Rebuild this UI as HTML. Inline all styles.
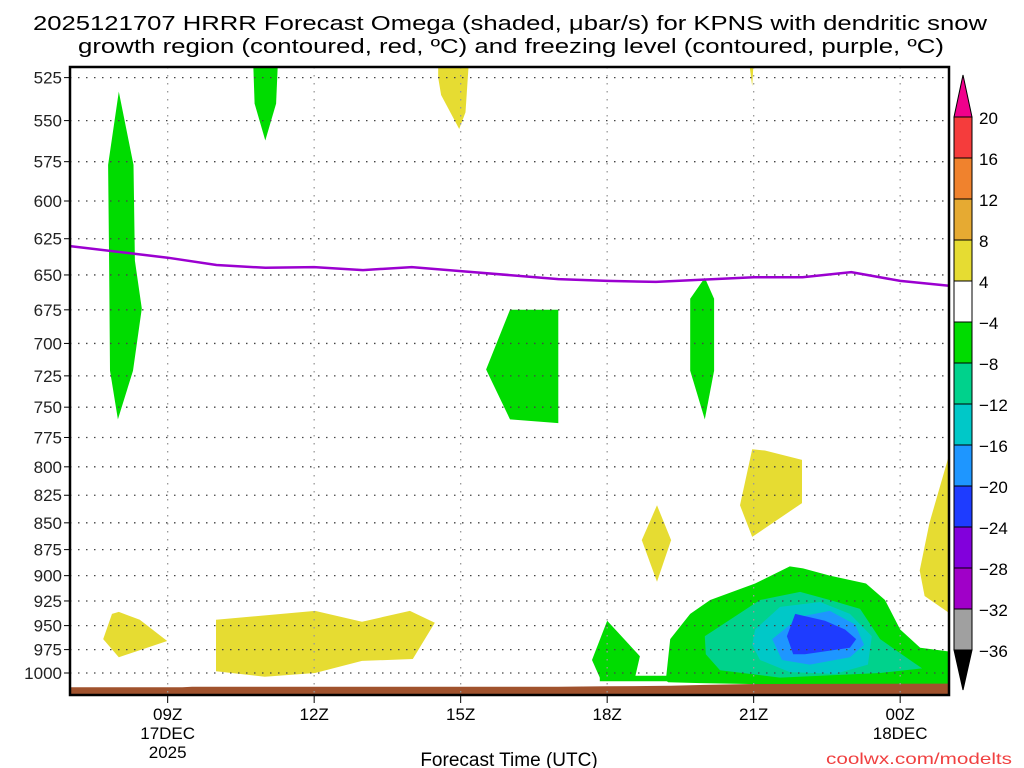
<!DOCTYPE html>
<html><head><meta charset="utf-8"><style>
html,body{margin:0;padding:0;background:#fff;}
svg{display:block;font-family:"Liberation Sans",sans-serif;}
</style></head><body>
<svg id="chart" width="1024" height="768" viewBox="0 0 1024 768" xmlns="http://www.w3.org/2000/svg">
<text x="33" y="30" font-size="20" textLength="954" lengthAdjust="spacingAndGlyphs">2025121707 HRRR Forecast Omega (shaded, μbar/s) for KPNS with dendritic snow</text>
<text x="78" y="53" font-size="20" textLength="866" lengthAdjust="spacingAndGlyphs">growth region (contoured, red, ºC) and freezing level (contoured, purple, ºC)</text>
<g id="shades"></g>
<g id="grid"></g>
<g id="lines"></g>
<g id="axes"></g>
<g id="cbar"></g>
<text x="509" y="766" font-size="19" text-anchor="middle">Forecast Time (UTC)</text>
<text x="1012" y="764" font-size="16" fill="#f04040" text-anchor="end" textLength="186" lengthAdjust="spacingAndGlyphs">coolwx.com/modelts</text>
</svg>
<script>
const pTicks=[525,550,575,600,625,650,675,700,725,750,775,800,825,850,875,900,925,950,975,1000];
const hTicks=[9,12,15,18,21,24];
const hLabels=[["09Z","17DEC","2025"],["12Z"],["15Z"],["18Z"],["21Z"],["00Z","18DEC"]];
const frzHours=[7,9,10,11,12,13,14,15,17,18,19,21,22,23,24,25];
const frzPres=[630,638,643,645,644.5,646.6,644.5,647.3,652.9,654.2,654.9,651.6,651.6,648,654.2,657.6];
const groundHours=[7,9.3,9.5,12,15,17,18,19.3,20,21,25];
const groundPres=[1015.5,1015.5,1015,1015,1015,1015,1014.5,1014,1013,1012,1011.5];
const cbLevels=[20,16,12,8,4,-4,-8,-12,-16,-20,-24,-28,-32,-36];
const cbColors=["#f53c3c","#f0822d","#e6aa32","#e6dc32","#ffffff","#00dc00","#00d28c","#00c8c8","#1e96ff","#1e3cff","#8200dc","#a000c8","#a0a0a0"];
const shapeColors=["#00dc00","#00dc00","#e6dc32","#e6dc32","#00dc00","#00dc00","#e6dc32","#e6dc32","#e6dc32","#e6dc32","#e6dc32","#00dc00","#00dc00","#00dc00","#00d28c","#00c8c8","#1e96ff","#1e3cff"];
const shapeNames=["green-left-column","green-top-11z","yellow-top-15z","yellow-top-21z","green-box-16z","green-column-20z","yellow-patch-21z","yellow-diamond-19z","yellow-right-edge","yellow-low-08z","yellow-low-band","green-low-18z","green-storm-outer","green-storm-strip","teal-storm","cyan-storm","lightblue-storm","blue-storm-core"];
const shapes=[
[[8.0,533],[8.3,577],[8.33,640],[8.47,674],[8.29,721],[7.98,760],[7.82,721],[7.8,640],[7.78,577]],
[[10.75,515],[11.26,515],[11.22,540],[11.0,562],[10.78,540]],
[[14.54,515],[15.17,515],[15.1,545],[14.97,555],[14.6,535],[14.54,525]],
[[20.9,515],[21.0,515],[20.97,530]],
[[15.52,720],[16.01,675],[17.0,675],[17.0,763],[16.01,760]],
[[20.0,652],[20.19,667],[20.19,721],[20.0,760],[19.7,721],[19.7,667]],
[[20.97,785],[21.23,786],[21.99,794],[21.99,832],[20.97,863],[20.72,834]],
[[19.02,834],[19.31,866],[19.02,906],[18.71,866]],
[[25,790],[25,937],[24.5,920],[24.4,895],[24.6,850]],
[[7.68,964],[7.86,938],[8.0,936],[8.43,944],[8.99,966],[8.0,983]],
[[9.99,944],[12.02,935],[12.98,946],[13.96,935],[14.47,947],[14.02,985],[12.98,987],[12.02,1000],[10.99,1004],[9.99,998]],
[[17.69,986],[18.0,945],[18.67,982],[18.57,1005],[17.85,1005]],
[[19.2,1008],[19.29,964],[19.7,938],[20.11,924],[21.03,907.7],[21.74,891],[22.01,893],[22.56,900],[23.3,907.7],[23.69,924],[24.0,954],[24.41,973],[25,977],[25,1012],[21.95,1013],[19.9,1011],[19.25,1010]],
[[17.85,1003],[19.3,1003],[19.3,1009],[17.85,1009]],
[[20.0,961],[20.21,954],[21.13,924],[21.95,916],[22.56,924],[23.18,933],[23.59,964],[24.2,986],[24.45,995],[23.59,1000],[21.54,1005],[20.31,997],[20.02,980]],
[[21.03,954],[21.54,931],[22.36,926],[22.97,938],[23.42,961],[23.34,991],[22.67,1001],[21.74,999],[21.13,986],[20.97,970]],
[[21.38,964],[21.95,941],[22.56,935],[23.08,949],[23.26,970],[22.97,983],[22.15,991],[21.58,986]],
[[21.68,961],[21.85,938],[22.46,945],[22.87,954],[23.1,964],[22.97,973],[22.05,980],[21.81,980]]
];
const L=70,R=949,T=67,B=695,H0=7,H1=25;
function xs(h){return L+(h-H0)*(R-L)/(H1-H0);}
function ys(p){return 673-924*Math.log(1000/p);}
const NS="http://www.w3.org/2000/svg";
function mk(tag,attrs,parent){const e=document.createElementNS(NS,tag);for(const k in attrs)e.setAttribute(k,attrs[k]);parent.appendChild(e);return e;}
const shades=document.getElementById('shades'),grid=document.getElementById('grid'),lines=document.getElementById('lines'),axes=document.getElementById('axes'),cbar=document.getElementById('cbar');
const clip=mk('clipPath',{id:'pc'},document.getElementById('chart'));
mk('rect',{x:L,y:T,width:R-L,height:B-T},clip);
shades.setAttribute('clip-path','url(#pc)');
shapes.forEach((s,i)=>{
  const e=mk('polygon',{points:s.map(q=>xs(q[0]).toFixed(1)+','+ys(q[1]).toFixed(1)).join(' '),fill:shapeColors[i]},shades);
  
  
});
let gp=groundHours.map((h,i)=>xs(h).toFixed(1)+','+ys(groundPres[i]).toFixed(1));
gp.push(R+','+B,L+','+B);
const g=mk('polygon',{points:gp.join(' '),fill:'#a0522d'},shades);


pTicks.forEach(p=>{
  const y=ys(p);
  const l=mk('line',{x1:L,x2:R,y1:y,y2:y,stroke:'#444','stroke-width':1.3,'stroke-dasharray':'1.5 6.5'},grid);
  
  
  mk('line',{x1:L-6,x2:L,y1:y,y2:y,stroke:'#000','stroke-width':1},axes);
  const t=mk('text',{x:L-8,y:y+6,'font-size':17,'text-anchor':'end',fill:'#222'},axes);
  t.textContent=p;
  
  
});
hTicks.forEach((h,i)=>{
  const x=xs(h);
  const l=mk('line',{x1:x,x2:x,y1:T,y2:B,stroke:'#999','stroke-width':1.3,'stroke-dasharray':'1.5 6.5'},grid);
  
  
  mk('line',{x1:x,x2:x,y1:B,y2:B+8,stroke:'#000','stroke-width':1},axes);
  hLabels[i].forEach((s,j)=>{
    const t=mk('text',{x:x,y:720+j*19,'font-size':17,'text-anchor':'middle'},axes);
    t.textContent=s;
    
    
  });
});
const fl=mk('polyline',{points:frzHours.map((h,i)=>xs(h).toFixed(1)+','+ys(frzPres[i]).toFixed(1)).join(' '),fill:'none',stroke:'#9b00d0','stroke-width':2.5},lines);


const fr=mk('rect',{x:L,y:T,width:R-L,height:B-T,fill:'none',stroke:'#000','stroke-width':2.5},axes);


const cx=954,cw=18,cTop=117,cStep=41;
function cy(i){return cTop+i*cStep;}
const tri1=mk('polygon',{points:`${cx},${cTop} ${cx+cw},${cTop} ${cx+cw/2},75`,fill:'#f0008c',stroke:'#000'},cbar);


cbColors.forEach((c,i)=>{
  const r=mk('rect',{x:cx,y:cy(i),width:cw,height:cStep,fill:c,stroke:'#000'},cbar);
  
  
});
const tri2=mk('polygon',{points:`${cx},${cy(13)} ${cx+cw},${cy(13)} ${cx+cw/2},690`,fill:'#000',stroke:'#000'},cbar);


cbLevels.forEach((v,i)=>{
  const t=mk('text',{x:979,y:cy(i)+7,'font-size':17},cbar);
  t.textContent=v<0?'\u2212'+(-v):String(v);
  
  
});
</script>
</body></html>
